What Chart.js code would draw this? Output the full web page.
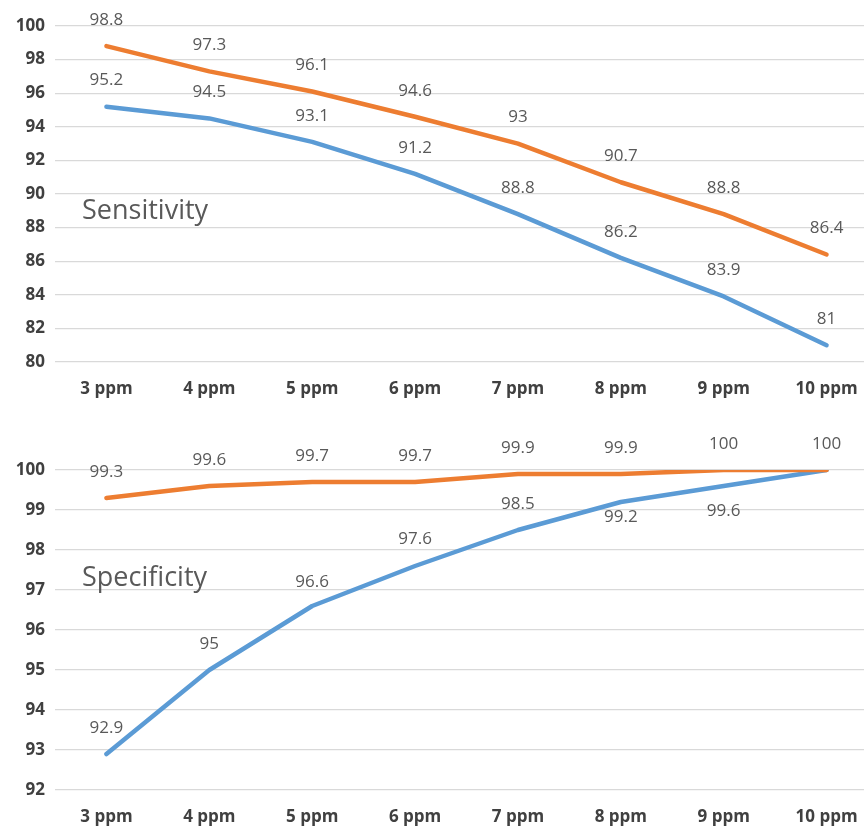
<!DOCTYPE html>
<html>
<head>
<meta charset="utf-8">
<script src="https://cdn.jsdelivr.net/npm/chart.js@4.4.1/dist/chart.umd.min.js"></script>
<style>
  html, body { margin: 0; padding: 0; background: #fff; overflow: hidden; width: 864px; height: 828px; }
  canvas { position: absolute; left: 0; }
  #sens { top: 0; }
  #spec { top: 410px; }
</style>
</head>
<body>
<canvas id="sens" width="878" height="410"></canvas>
<canvas id="spec" width="878" height="428"></canvas>
<script>
// data
var categories = ["3 ppm","4 ppm","5 ppm","6 ppm","7 ppm","8 ppm","9 ppm","10 ppm"];
var sens_blue = [95.2, 94.5, 93.1, 91.2, 88.8, 86.2, 83.9, 81];
var sens_orange = [98.8, 97.3, 96.1, 94.6, 93, 90.7, 88.8, 86.4];
var spec_blue = [92.9, 95, 96.6, 97.6, 98.5, 99.2, 99.6, 100];
var spec_orange = [99.3, 99.6, 99.7, 99.7, 99.9, 99.9, 100, 100];
var sens_range = [80, 100, 2];   // min, max, step
var spec_range = [92, 100, 1];

var blue = "#5b9bd5";
var orange = "#ed7d31";
var font_family = "'Open Sans', 'Noto Sans', sans-serif";

// draws the value labels next to each point
var pointLabels = {
  id: "pointLabels",
  afterDatasetsDraw: function(chart) {
    var ctx = chart.ctx;
    ctx.save();
    ctx.font = "17px " + font_family;
    ctx.fillStyle = "#595959";
    ctx.textAlign = "center";
    ctx.textBaseline = "middle";
    chart.data.datasets.forEach(function(ds, i) {
      var meta = chart.getDatasetMeta(i);
      meta.data.forEach(function(pt, j) {
        var shift = ds.labelShift ? ds.labelShift[j] : -26;
        if (shift === null) return;
        ctx.fillText(String(ds.data[j]), pt.x, pt.y + shift);
      });
    });
    // chart title inside the plot
    var t = chart.options.plugins.pointLabels;
    ctx.font = "27px " + font_family;
    ctx.textAlign = "left";
    ctx.fillText(t.title, t.x, t.y);
    ctx.restore();
  }
};

function makeChart(id, blueData, orangeData, range, title, titleY, padTop, blueShift) {
  var ctx = document.getElementById(id).getContext("2d");
  return new Chart(ctx, {
    type: "line",
    data: {
      labels: categories,
      datasets: [{
        data: blueData,
        borderColor: blue,
        borderWidth: 4.5,
        pointRadius: 0,
        order: 1,
        labelShift: blueShift
      }, {
        data: orangeData,
        borderColor: orange,
        borderWidth: 4.5,
        pointRadius: 0,
        order: 0
      }]
    },
    options: {
      responsive: false,
      animation: false,
      devicePixelRatio: 1,
      layout: { padding: { top: padTop, left: 0, right: 0, bottom: 0 } },
      plugins: {
        legend: { display: false },
        tooltip: { enabled: false },
        pointLabels: { title: title, x: 82, y: titleY }
      },
      elements: { line: { borderCapStyle: "round", borderJoinStyle: "round", tension: 0 } },
      scales: {
        x: {
          offset: true,
          grid: { display: false },
          border: { display: false },
          ticks: { color: "#404040", padding: 9, maxRotation: 0, font: { family: font_family, size: 17, weight: "bold" } },
          afterFit: function(s) { s.height = 48; }
        },
        y: {
          min: range[0],
          max: range[1],
          ticks: { stepSize: range[2], color: "#404040", padding: 10, font: { family: font_family, size: 17, weight: "bold" } },
          grid: { color: "#d9d9d9", lineWidth: 1.2, drawTicks: false },
          border: { display: false },
          afterFit: function(s) { s.width = 55; }
        }
      }
    },
    plugins: [pointLabels]
  });
}

makeChart("sens", sens_blue, sens_orange, sens_range, "Sensitivity", 211, 26, null);
makeChart("spec", spec_blue, spec_orange, spec_range, "Specificity", 578 - 410, 60,
  [-26, -26, -24, -27, -26, 15, 25, null]);
</script>
</body>
</html>
